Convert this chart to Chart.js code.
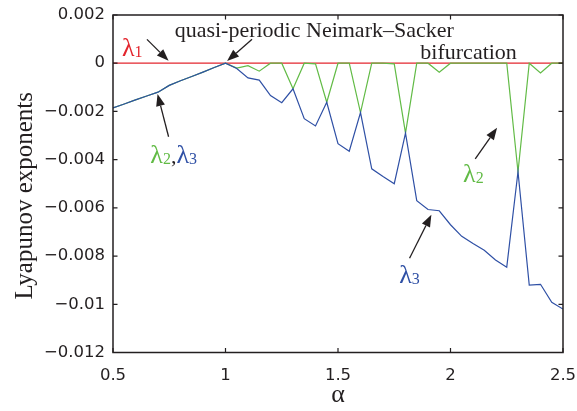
<!DOCTYPE html>
<html>
<head>
<meta charset="utf-8">
<script src="https://cdn.jsdelivr.net/npm/chart.js@4.4.1/dist/chart.umd.min.js"></script>
<style>
  body { margin: 0; background: #fff; }
  #wrap { width: 577px; height: 411px; }
</style>
</head>
<body>
<div id="wrap"><canvas id="lyapChart" width="577" height="411"></canvas></div>
<script>
// alpha grid (x values)
const alpha = [0.5, 0.55, 0.6, 0.65, 0.7, 0.75, 0.8, 0.85, 0.9, 0.95,
               1.0, 1.05, 1.1, 1.15, 1.2, 1.25, 1.3, 1.35, 1.4, 1.45,
               1.5, 1.55, 1.6, 1.65, 1.7, 1.75, 1.8, 1.85, 1.9, 1.95,
               2.0, 2.05, 2.1, 2.15, 2.2, 2.25, 2.3, 2.35, 2.4, 2.45, 2.5];

// lambda1 - stays at zero
const lambda1 = [0, 0, 0, 0, 0, 0, 0, 0, 0, 0,
                 0, 0, 0, 0, 0, 0, 0, 0, 0, 0,
                 0, 0, 0, 0, 0, 0, 0, 0, 0, 0,
                 0, 0, 0, 0, 0, 0, 0, 0, 0, 0, 0];

// lambda2 (green)
const lambda2 = [-0.00185, -0.00169, -0.00152, -0.00136, -0.0012, -0.00092, -0.00073, -0.00055, -0.00037, -0.00018,
                 0, -0.0002, -0.0001, -0.00033, 0, 0, -0.00106, 0, -0.00003, -0.00162,
                 0, 0, -0.00205, 0, 0, -0.00003, -0.0029, 0, 0, -0.00037,
                 0, 0, 0, 0, 0, 0, -0.0045, 0, -0.0004, 0, 0];

// lambda3 (blue)
const lambda3 = [-0.00185, -0.00169, -0.00152, -0.00136, -0.0012, -0.00092, -0.00073, -0.00055, -0.00037, -0.00018,
                 0, -0.00022, -0.00061, -0.0007, -0.00134, -0.00164, -0.00106, -0.0023, -0.0026, -0.00162,
                 -0.00334, -0.00365, -0.00205, -0.00438, -0.0047, -0.005, -0.0029, -0.0057, -0.00607, -0.00612,
                 -0.0067, -0.00718, -0.00748, -0.00776, -0.00816, -0.00846, -0.0045, -0.0092, -0.00917, -0.00992, -0.0102];

const xTickValues = [0.5, 1, 1.5, 2, 2.5];
const xTickLabels = ['0.5', '1', '1.5', '2', '2.5'];
const yTickValues = [0.002, 0, -0.002, -0.004, -0.006, -0.008, -0.01, -0.012];
const yTickLabels = ['0.002', '0', '\u22120.002', '\u22120.004', '\u22120.006', '\u22120.008', '\u22120.01', '\u22120.012'];

const RED = '#e3262e';
const GREEN = '#62bb46';
const BLUE = '#2f50a5';
const INK = '#231f20';

function toPoints(values) {
    return alpha.map((a, i) => ({ x: a, y: values[i] }));
}

// Arrow: from [alpha, value] to [alpha, value]
const arrows = [
    [[0.651, 0.00099], [0.747, 0.0001]],
    [[1.118, 0.00099], [1.007, 0.00009]],
    [[0.747, -0.00305], [0.698, -0.00128]],
    [[2.110, -0.00397], [2.207, -0.00268]],
    [[1.818, -0.00809], [1.915, -0.00629]]
];

const serif = '"Liberation Serif", "DejaVu Serif", serif';
const sans = '"DejaVu Sans", "Liberation Sans", sans-serif';

function drawArrow(ctx, x1, y1, x2, y2) {
    const ang = Math.atan2(y2 - y1, x2 - x1);
    const head = 12, half = 4.5;
    const bx = x2 - head * Math.cos(ang), by = y2 - head * Math.sin(ang);
    ctx.strokeStyle = INK;
    ctx.fillStyle = INK;
    ctx.lineWidth = 1.3;
    ctx.beginPath();
    ctx.moveTo(x1, y1);
    ctx.lineTo(bx, by);
    ctx.stroke();
    ctx.beginPath();
    ctx.moveTo(x2, y2);
    ctx.lineTo(bx + half * Math.sin(ang), by - half * Math.cos(ang));
    ctx.lineTo(bx - half * Math.sin(ang), by + half * Math.cos(ang));
    ctx.closePath();
    ctx.fill();
}

// draws lambda with subscript, returns x after it
function drawLambda(ctx, x, y, sub, color) {
    ctx.fillStyle = color;
    ctx.font = '26px ' + serif;
    ctx.fillText('\u03bb', x, y);
    x += ctx.measureText('\u03bb').width;
    ctx.font = '16px ' + serif;
    ctx.fillText(sub, x, y + 1);
    return x + ctx.measureText(sub).width;
}

const framePlugin = {
    id: 'frameAndNotes',
    afterDraw(chart) {
        const { ctx, chartArea, scales } = chart;
        const xs = scales.x, ys = scales.y;
        const px = v => xs.getPixelForValue(v);
        const py = v => ys.getPixelForValue(v);

        ctx.save();
        // box
        ctx.strokeStyle = INK;
        ctx.lineWidth = 1.5;
        ctx.strokeRect(chartArea.left, chartArea.top, chartArea.right - chartArea.left, chartArea.bottom - chartArea.top);

        // inward ticks on all sides
        ctx.lineWidth = 1.2;
        ctx.beginPath();
        xTickValues.forEach(v => {
            const x = px(v);
            ctx.moveTo(x, chartArea.bottom); ctx.lineTo(x, chartArea.bottom - 4.5);
            ctx.moveTo(x, chartArea.top); ctx.lineTo(x, chartArea.top + 4.5);
        });
        yTickValues.forEach(v => {
            const y = py(v);
            ctx.moveTo(chartArea.left, y); ctx.lineTo(chartArea.left + 4.5, y);
            ctx.moveTo(chartArea.right, y); ctx.lineTo(chartArea.right - 4.5, y);
        });
        ctx.stroke();

        // y axis title, set a little below the middle like the original
        ctx.save();
        ctx.translate(25, py(-0.0055));
        ctx.rotate(-Math.PI / 2);
        ctx.fillStyle = INK;
        ctx.font = '25px ' + serif;
        ctx.textAlign = 'center';
        ctx.textBaseline = 'middle';
        ctx.fillText('Lyapunov exponents', 0, 0);
        ctx.restore();

        // annotations
        ctx.textAlign = 'left';
        ctx.textBaseline = 'alphabetic';
        drawLambda(ctx, px(0.540), py(0.0003), '1', RED);

        ctx.fillStyle = INK;
        ctx.font = '22px ' + serif;
        ctx.fillText('quasi-periodic Neimark\u2013Sacker', px(0.774), py(0.0011));
        ctx.fillText('bifurcation', px(1.866), py(0.00016));

        let cx = drawLambda(ctx, px(0.666), py(-0.00413), '2', GREEN);
        ctx.fillStyle = INK;
        ctx.font = '22px ' + serif;
        ctx.fillText(',', cx, py(-0.00413));
        cx += ctx.measureText(',').width;
        drawLambda(ctx, cx, py(-0.00413), '3', BLUE);

        drawLambda(ctx, px(2.056), py(-0.00492), '2', GREEN);
        drawLambda(ctx, px(1.772), py(-0.00913), '3', BLUE);

        arrows.forEach(([a, b]) => drawArrow(ctx, px(a[0]), py(a[1]), px(b[0]), py(b[1])));
        ctx.restore();
    }
};

const lineStyle = { borderWidth: 1.2, pointRadius: 0, tension: 0, fill: false };

new Chart(document.getElementById('lyapChart'), {
    type: 'line',
    data: {
        datasets: [
            Object.assign({ label: 'lambda3', data: toPoints(lambda3), borderColor: BLUE }, lineStyle),
            Object.assign({ label: 'lambda2', data: toPoints(lambda2), borderColor: GREEN }, lineStyle),
            Object.assign({ label: 'lambda1', data: toPoints(lambda1), borderColor: RED }, lineStyle)
        ]
    },
    plugins: [framePlugin],
    options: {
        responsive: false,
        animation: false,
        events: [],
        layout: { padding: { top: 15, right: 14, left: 0, bottom: 0 } },
        plugins: {
            legend: { display: false },
            tooltip: { enabled: false }
        },
        scales: {
            x: {
                type: 'linear',
                min: 0.5,
                max: 2.5,
                afterBuildTicks: s => { s.ticks = xTickValues.map(v => ({ value: v })); },
                afterFit: s => { s.height = 58.5; s.paddingLeft = 0; s.paddingRight = 0; },
                grid: { display: false, drawTicks: false },
                border: { display: false },
                ticks: {
                    color: INK,
                    padding: 13,
                    maxRotation: 0,
                    font: { family: sans, size: 16.5 },
                    callback: (v, i) => xTickLabels[i]
                },
                title: {
                    display: true,
                    text: '\u03b1',
                    color: INK,
                    font: { family: serif, size: 26 },
                    padding: { top: 0, bottom: 0 }
                }
            },
            y: {
                type: 'linear',
                min: -0.012,
                max: 0.002,
                afterBuildTicks: s => { s.ticks = yTickValues.map(v => ({ value: v })); },
                afterFit: s => { s.width = 113; s.paddingTop = 0; s.paddingBottom = 0; },
                grid: { display: false, drawTicks: false },
                border: { display: false },
                ticks: {
                    color: INK,
                    padding: 8,
                    font: { family: sans, size: 16.5 },
                    callback: (v, i) => yTickLabels[i]
                },
                title: { display: false }
            }
        }
    }
});
</script>
</body>
</html>
